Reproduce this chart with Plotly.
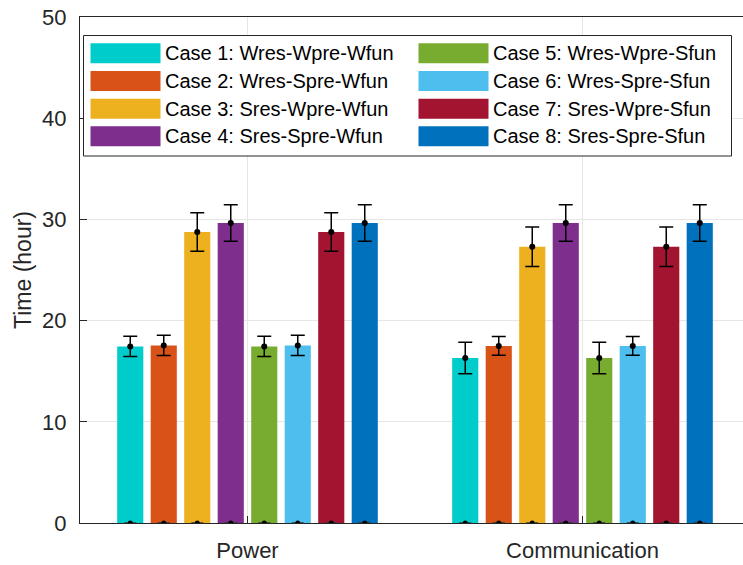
import plotly.graph_objects as go

# ---------------- data ----------------
groups = ["Power", "Communication"]
group_pos = [1, 2]
cases = [
    "Case 1: Wres-Wpre-Wfun",
    "Case 2: Wres-Spre-Wfun",
    "Case 3: Sres-Wpre-Wfun",
    "Case 4: Sres-Spre-Wfun",
    "Case 5: Wres-Wpre-Sfun",
    "Case 6: Wres-Spre-Sfun",
    "Case 7: Sres-Wpre-Sfun",
    "Case 8: Sres-Spre-Sfun",
]
colors = ["#00CCCC", "#D95319", "#EDB120", "#7E2F8E",
          "#77AC30", "#4DBEEE", "#A2142F", "#0072BD"]
power_mean = [17.45, 17.55, 28.75, 29.65, 17.45, 17.55, 28.75, 29.65]
power_err = [1.0, 1.0, 1.9, 1.8, 1.0, 1.0, 1.9, 1.8]
comm_mean = [16.3, 17.5, 27.3, 29.65, 16.3, 17.5, 27.3, 29.65]
comm_err = [1.55, 0.93, 1.95, 1.8, 1.55, 0.93, 1.95, 1.8]
baseline = [0, 0]
y_ticks = [0, 10, 20, 30, 40, 50]

# ---------------- layout constants ----------------
W, H = 743, 565
ML, MR, MT, MB = 80, 0, 17, 42
PW, PH = W - ML - MR, H - MT - MB
slot = 0.1
bar_w = 0.078
TXT = "#262626"
FONT = "Liberation Sans, Arial, Helvetica, sans-serif"

fig = go.Figure()
for i, name in enumerate(cases):
    off = (i - 3.5) * slot
    xs = [g + off for g in group_pos]
    means = [power_mean[i], comm_mean[i]]
    errs = [power_err[i], comm_err[i]]
    fig.add_trace(go.Bar(
        x=xs, y=means, width=bar_w, name=name,
        marker=dict(color=colors[i], line=dict(width=0)),
        showlegend=False, hoverinfo="skip"))
    fig.add_trace(go.Scatter(
        x=xs, y=means, mode="markers",
        marker=dict(color="black", size=6),
        error_y=dict(type="data", array=errs, color="black",
                     thickness=1.5, width=7),
        showlegend=False, hoverinfo="skip"))
    fig.add_trace(go.Scatter(
        x=xs, y=baseline, mode="markers",
        marker=dict(color="black", size=5),
        error_y=dict(type="data", array=[0, 0], color="#333333",
                     thickness=1.5, width=6),
        showlegend=False, hoverinfo="skip"))

fig.update_layout(
    width=W, height=H,
    margin=dict(l=ML, r=MR, t=MT, b=MB, autoexpand=False),
    plot_bgcolor="white", paper_bgcolor="white",
    barmode="overlay",
    font=dict(family=FONT, color=TXT, size=22),
)
fig.update_xaxes(
    range=[0.5, 0.5 + PW / 335.0],
    tickvals=group_pos, ticktext=groups,
    ticks="inside", ticklen=7, tickcolor=TXT,
    showgrid=True, gridcolor="#E6E6E6", gridwidth=1,
    showline=True, linecolor=TXT, linewidth=1, mirror=True,
    tickfont=dict(size=22, color=TXT),
    ticklabelstandoff=8, zeroline=False,
)
fig.update_yaxes(
    range=[0, 50], tickvals=y_ticks,
    ticks="inside", ticklen=7, tickcolor=TXT,
    showgrid=True, gridcolor="#E6E6E6", gridwidth=1,
    showline=True, linecolor=TXT, linewidth=1, mirror=False,
    tickfont=dict(size=22, color=TXT),
    ticklabelstandoff=8, ticklabeloverflow="allow", zeroline=False,
    title=dict(text="Time (hour)", font=dict(size=23, color=TXT), standoff=4),
)


def px(x):
    return (x - ML) / PW


def py(y):
    return (MT + PH - y) / PH


# manual legend (two columns, column-major like the reference)
shapes = [dict(type="rect", xref="paper", yref="paper",
               x0=px(83.5), x1=px(731.5), y0=py(156), y1=py(35.5),
               line=dict(color=TXT, width=1), fillcolor="white", layer="above")]
annotations = []
col_x = [90.5, 418.5]
row_y = [53.3, 81.0, 108.7, 136.3]
for i, name in enumerate(cases):
    c, r = divmod(i, 4)
    x0 = col_x[c]
    yc = row_y[r]
    shapes.append(dict(type="rect", xref="paper", yref="paper",
                       x0=px(x0), x1=px(x0 + 70), y0=py(yc + 10), y1=py(yc - 10),
                       line=dict(width=0), fillcolor=colors[i], layer="above"))
    annotations.append(dict(xref="paper", yref="paper", x=px(x0 + 72), y=py(yc),
                            xanchor="left", yanchor="middle", showarrow=False,
                            text=name, font=dict(size=20, color="black", family=FONT)))
fig.update_layout(shapes=shapes, annotations=annotations)

fig.write_html("out.html",
               config={"displayModeBar": False},
               post_script="document.body.style.margin='0';")
